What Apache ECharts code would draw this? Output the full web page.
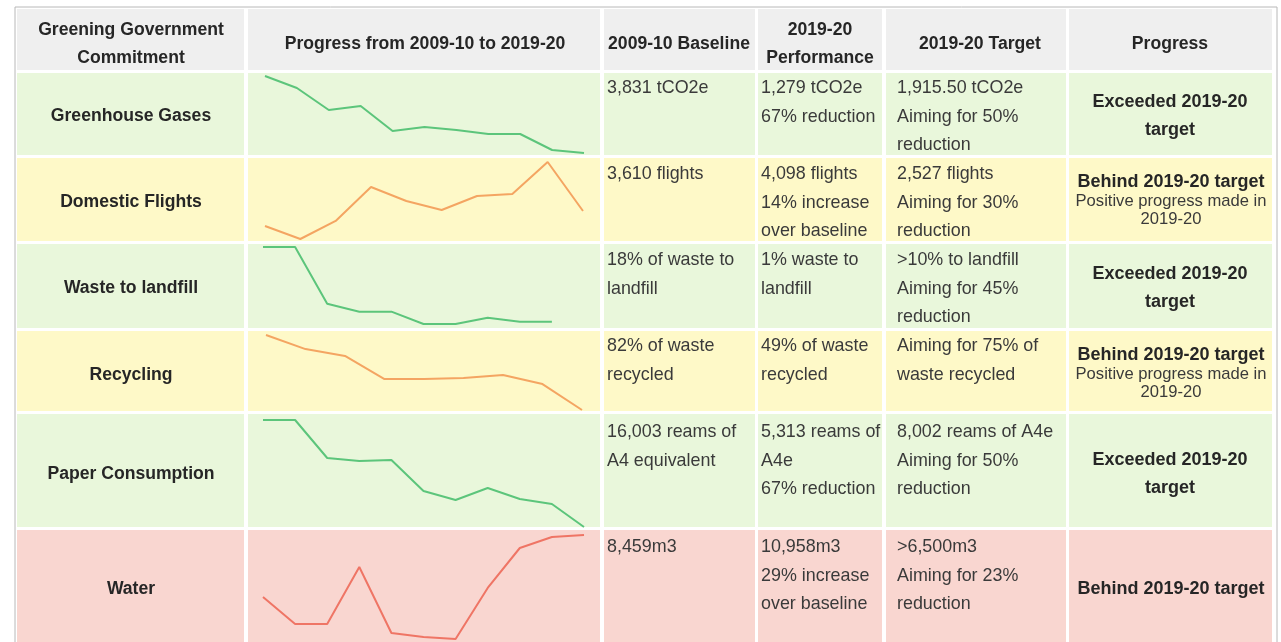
<!DOCTYPE html>
<html>
<head>
<meta charset="utf-8">
<style>
  html, body { margin: 0; padding: 0; background: #ffffff; }
  #main { width: 1281px; height: 642px; }
</style>
<script src="https://cdn.jsdelivr.net/npm/echarts@6/dist/echarts.min.js"></script>
</head>
<body>
<div id="main"></div>
<script>
// table content
var headers = ['Greening Government\nCommitment', 'Progress from 2009-10 to 2019-20', '2009-10 Baseline', '2019-20\nPerformance', '2019-20 Target', 'Progress'];
var commitments = ['Greenhouse Gases', 'Domestic Flights', 'Waste to landfill', 'Recycling', 'Paper Consumption', 'Water'];
var baselines = [
	['3,831 tCO2e'],
	['3,610 flights'],
	['18% of waste to', 'landfill'],
	['82% of waste', 'recycled'],
	['16,003 reams of', 'A4 equivalent'],
	['8,459m3']
];
var performance = [
	['1,279 tCO2e', '67% reduction'],
	['4,098 flights', '14% increase', 'over baseline'],
	['1% waste to', 'landfill'],
	['49% of waste', 'recycled'],
	['5,313 reams of', 'A4e', '67% reduction'],
	['10,958m3', '29% increase', 'over baseline']
];
var targets = [
	['1,915.50 tCO2e', 'Aiming for 50%', 'reduction'],
	['2,527 flights', 'Aiming for 30%', 'reduction'],
	['>10% to landfill', 'Aiming for 45%', 'reduction'],
	['Aiming for 75% of', 'waste recycled'],
	['8,002 reams of A4e', 'Aiming for 50%', 'reduction'],
	['>6,500m3', 'Aiming for 23%', 'reduction']
];
var statuses = [
	['Exceeded 2019-20', 'target'],
	['Behind 2019-20 target'],
	['Exceeded 2019-20', 'target'],
	['Behind 2019-20 target'],
	['Exceeded 2019-20', 'target'],
	['Behind 2019-20 target']
];
var notes = [
	[],
	['Positive progress made in', '2019-20'],
	[],
	['Positive progress made in', '2019-20'],
	[],
	[]
];
var rowStatus = ['good', 'amber', 'good', 'amber', 'good', 'red'];

// sparkline data
var years = ['2009-10', '2010-11', '2011-12', '2012-13', '2013-14', '2014-15', '2015-16', '2016-17', '2017-18', '2018-19', '2019-20'];
var ghgValues = [3831, 3433, 2704, 2837, 2008, 2141, 2041, 1909, 1909, 1379, 1279];
var flightValues = [3610, 3187, 3773, 4879, 4423, 4130, 4586, 4651, 5691, 4098];
var landfillValues = [18, 18, 5.1, 3.3, 3.3, 0.5, 0.5, 1.9, 1.0, 1.0, null];
var recyclingValues = [82, 75.8, 72.8, 62.6, 62.6, 63.1, 64.4, 60.4, 49];
var paperValues = [16003, 16003, 12207, 11907, 12007, 8910, 8011, 9210, 8111, 7611, 5313];
var waterValues = [8459, 7371, 7371, 9668, 7008, 6847, 6766, 8822, 10434, 10877, 10958];

var sparkData = [ghgValues, flightValues, landfillValues, recyclingValues, paperValues, waterValues];
var sparkYears = [years, years.slice(1), years, years.slice(2), years, years];

// layout
var colX = [[17, 244], [248, 600], [604, 755], [758, 882], [886, 1066], [1069, 1272]];
var rowY = [[9, 70], [73, 155], [158, 241], [244, 328], [331, 411], [414, 527], [530, 645]];
var labelY = [116, 202, 288, 375, 474, 589];
var firstLineY = [88, 174, 260, 346, 432, 547];
var sparkBox = [
	{ left: 265, top: 76, width: 319, height: 77 },
	{ left: 265, top: 162, width: 318, height: 77 },
	{ left: 263, top: 247, width: 321, height: 77 },
	{ left: 266, top: 335, width: 316, height: 75 },
	{ left: 263, top: 420, width: 321, height: 107 },
	{ left: 263, top: 535, width: 321, height: 104 }
];
var fills = { good: '#e9f7db', amber: '#fef9c8', red: '#f9d6d0' };
var lineColors = { good: '#5cc57b', amber: '#f4a562', red: '#ef7565' };
var textColor = '#3a3a3a';
var boldColor = '#262626';
var FONT = '"Liberation Sans", Arial, sans-serif';
var LH = 28.6;

function txt(x, y, s, size, weight, align) {
	return {
		type: 'text',
		x: x,
		y: y,
		silent: true,
		style: {
			text: s,
			fill: weight == 'bold' ? boldColor : textColor,
			fontSize: size,
			fontWeight: weight,
			fontFamily: FONT,
			align: align || 'left',
			verticalAlign: 'middle',
			lineHeight: 28
		}
	};
}

var graphics = [];
// outer frame
graphics.push({
	type: 'rect', silent: true, z: -10,
	shape: { x: 15, y: 7, width: 1262, height: 660 },
	style: { fill: '#ffffff', stroke: '#b8b8b8', lineWidth: 1 }
});

// cells
rowY.forEach(function (ry, r) {
	colX.forEach(function (cx) {
		var fill = r == 0 ? '#efefef' : fills[rowStatus[r - 1]];
		graphics.push({
			type: 'rect', silent: true, z: -5,
			shape: { x: cx[0], y: ry[0], width: cx[1] - cx[0], height: ry[1] - ry[0] },
			style: { fill: fill }
		});
	});
});

// header
var headerCx = [131, 425, 679, 820, 980, 1170];
headers.forEach(function (h, i) {
	graphics.push(txt(headerCx[i], 44, h, 17.6, 'bold', 'center'));
});

// rows
commitments.forEach(function (name, r) {
	graphics.push(txt(131, labelY[r], name, 17.6, 'bold', 'center'));
	baselines[r].forEach(function (s, k) {
		graphics.push(txt(607, firstLineY[r] + k * LH, s, 17.9, 'normal'));
	});
	performance[r].forEach(function (s, k) {
		graphics.push(txt(761, firstLineY[r] + k * LH, s, 17.9, 'normal'));
	});
	targets[r].forEach(function (s, k) {
		graphics.push(txt(897, firstLineY[r] + k * LH, s, 17.9, 'normal'));
	});
	var c = labelY[r];
	if (notes[r].length > 0) {
		graphics.push(txt(1171, c - 20, statuses[r][0], 18, 'bold', 'center'));
		notes[r].forEach(function (s, k) {
			graphics.push(txt(1171, c - 1 + k * 18, s, 16.6, 'normal', 'center'));
		});
	} else if (statuses[r].length == 2) {
		graphics.push(txt(1170, c - 14, statuses[r][0], 18, 'bold', 'center'));
		graphics.push(txt(1170, c + 14, statuses[r][1], 18, 'bold', 'center'));
	} else {
		graphics.push(txt(1171, c, statuses[r][0], 18, 'bold', 'center'));
	}
});

// sparklines
var grids = [], xAxes = [], yAxes = [], series = [];
sparkData.forEach(function (vals, i) {
	var b = sparkBox[i];
	grids.push({ left: b.left, top: b.top, width: b.width, height: b.height });
	xAxes.push({ type: 'category', gridIndex: i, data: sparkYears[i], boundaryGap: false, show: false });
	yAxes.push({ type: 'value', gridIndex: i, min: 'dataMin', max: 'dataMax', show: false, splitLine: { show: false } });
	series.push({
		type: 'line',
		xAxisIndex: i,
		yAxisIndex: i,
		data: vals,
		showSymbol: false,
		symbol: 'none',
		clip: false,
		lineStyle: { color: lineColors[rowStatus[i]], width: 2 },
		z: 5
	});
});

var chart = echarts.init(document.getElementById('main'));
chart.setOption({
	animation: false,
	backgroundColor: '#ffffff',
	graphic: graphics,
	grid: grids,
	xAxis: xAxes,
	yAxis: yAxes,
	series: series
});
</script>
</body>
</html>
